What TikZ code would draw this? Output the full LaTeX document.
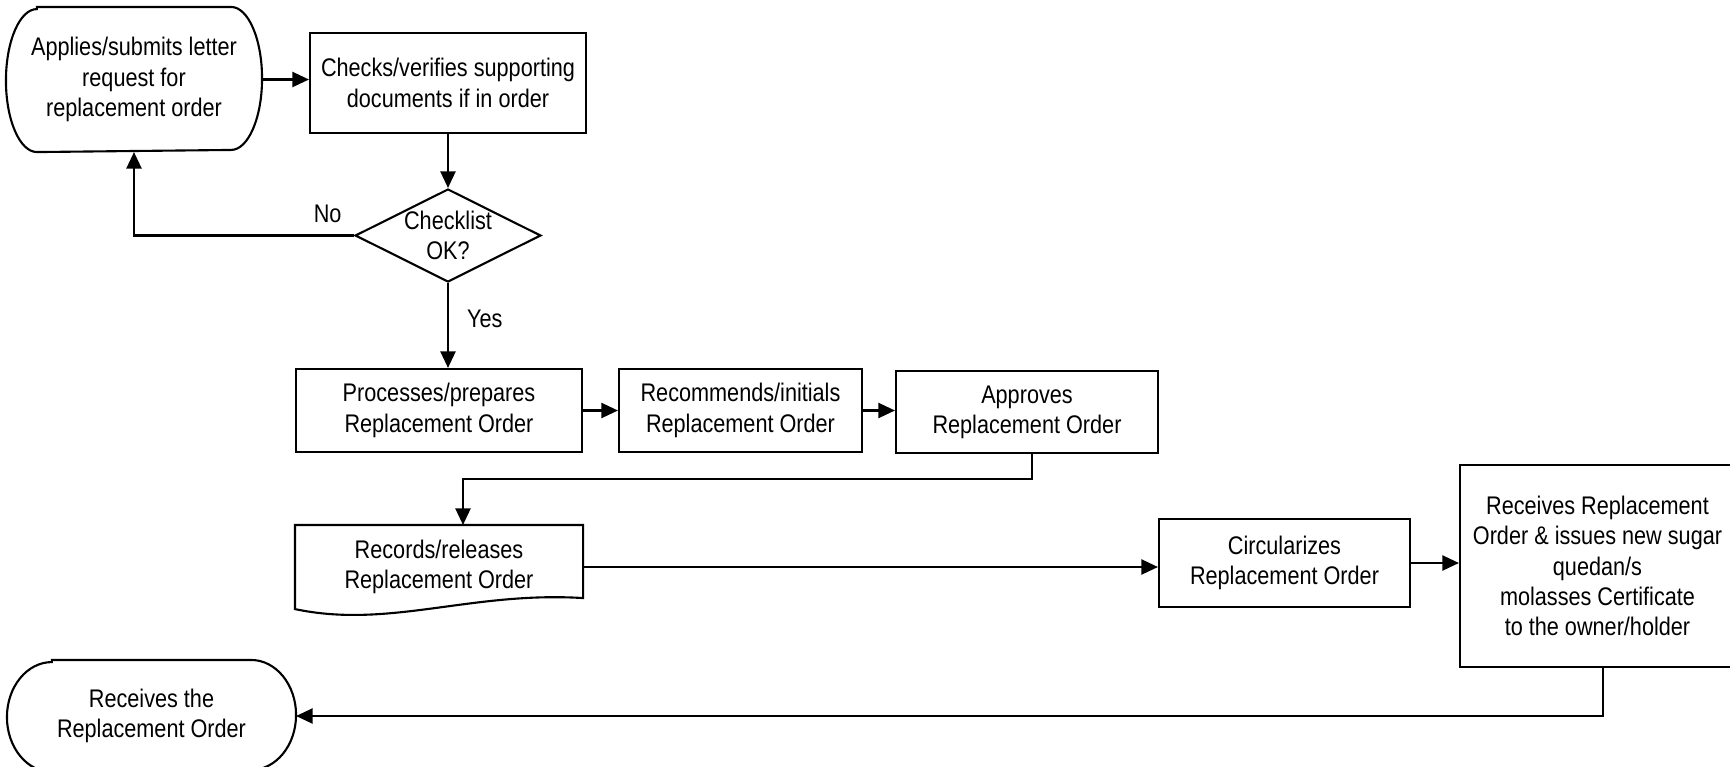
\documentclass[tikz,border=0pt]{standalone}
\usepackage{fontspec}
\setmainfont{Liberation Sans}[FakeStretch=0.85]
\usetikzlibrary{arrows.meta,positioning,shapes.geometric}
\newcommand{\termshape}[3]{%
  \draw ([xshift=#2]#1.north west) -- ([xshift=-#2]#1.north east)
    arc[start angle=90,end angle=-90,x radius=#2,y radius=#3]
    -- ([xshift=#2]#1.south west)
    arc[start angle=270,end angle=90,x radius=#2,y radius=#3] -- cycle;}

\begin{document}
\begin{tikzpicture}[node distance=4cm,on grid,auto,line width=1.2pt,
  >={Triangle[length=0.33cm,width=0.3cm]},
  every node/.style={font=\fontsize{14.5pt}{17.2pt}\selectfont,align=center,inner sep=0pt},
  process/.style={rectangle,draw,minimum height=1.66cm},
  decision/.style={diamond,draw,aspect=2,minimum width=3.68cm,minimum height=1.86cm},
  terminal/.style={rectangle},
  docbox/.style={rectangle,minimum width=5.72cm,minimum height=1.64cm}]
   \useasboundingbox (0,0) rectangle (34.6,-15.32);

   \node[terminal,minimum width=5.08cm,minimum height=2.86cm] (app) at (2.68,-1.59) {Applies/submits letter\\request for\\replacement order};
   \node[process,minimum width=5.52cm,minimum height=2cm] (chk) [right=6.28cm of app,yshift=-0.07cm] {Checks/verifies supporting\\documents if in order};
   \node[decision] (dec) [below=3.05cm of chk] {Checklist\\OK?};
   \node[process,minimum width=5.72cm] (proc) [below=3.5cm of dec,xshift=-0.18cm] {Processes/prepares\\Replacement Order};
   \node[process,minimum width=4.86cm] (rec) [right=6.03cm of proc] {Recommends/initials\\Replacement Order};
   \node[process,minimum width=5.24cm,minimum height=1.64cm] (appr) [right=5.73cm of rec,yshift=-0.03cm] {Approves\\Replacement Order};
   \node[docbox] (rel) [below=3.13cm of proc] {Records/releases\\Replacement Order};
   \node[process,minimum width=5.02cm,minimum height=1.76cm] (circ) [right=16.91cm of rel,yshift=0.08cm] {Circularizes\\Replacement Order};
   \node[process,minimum width=5.5cm,minimum height=4.04cm] (iss) [right=6.26cm of circ,yshift=-0.06cm] {Receives Replacement\\Order \& issues new sugar\\quedan/s\\molasses Certificate\\to the owner/holder};
   \node[terminal,minimum width=5.74cm,minimum height=2.2cm] (recv) at (3.03,-14.32) {Receives the\\Replacement Order};

   \termshape{app}{0.62cm}{1.43cm}
   \termshape{recv}{0.9cm}{1.1cm}
   \draw (rel.south west) -- (rel.north west) -- (rel.north east) -- ([yshift=0.22cm]rel.south east)
     .. controls ([xshift=-2.24cm,yshift=0.36cm]rel.south east) and ([xshift=1.88cm,yshift=-0.4cm]rel.south west) .. (rel.south west) -- cycle;

   \draw[->] (app.east) -- (app.east -| chk.west);
   \draw[->] (chk) -- (dec);
   \draw[->] (dec.west) -| node[pos=0.06,above=0.23cm] {No} (app.south);
   \draw[->] (dec.south) -- node[pos=0.42,right=0.36cm] {Yes} (dec.south |- proc.north);
   \draw[->] (proc.east) -- (proc.east -| rec.west);
   \draw[->] (rec.east) -- (rec.east -| appr.west);
   \draw[->] ([xshift=0.1cm]appr.south) -- ++(0,-0.49) -| ([xshift=0.48cm]rel.north);
   \draw[->] (rel.east) -- (rel.east -| circ.west);
   \draw[->] (circ.east) -- (circ.east -| iss.west);
   \draw[->] ([xshift=0.11cm]iss.south) |- (recv.east);
\end{tikzpicture}
\end{document}
